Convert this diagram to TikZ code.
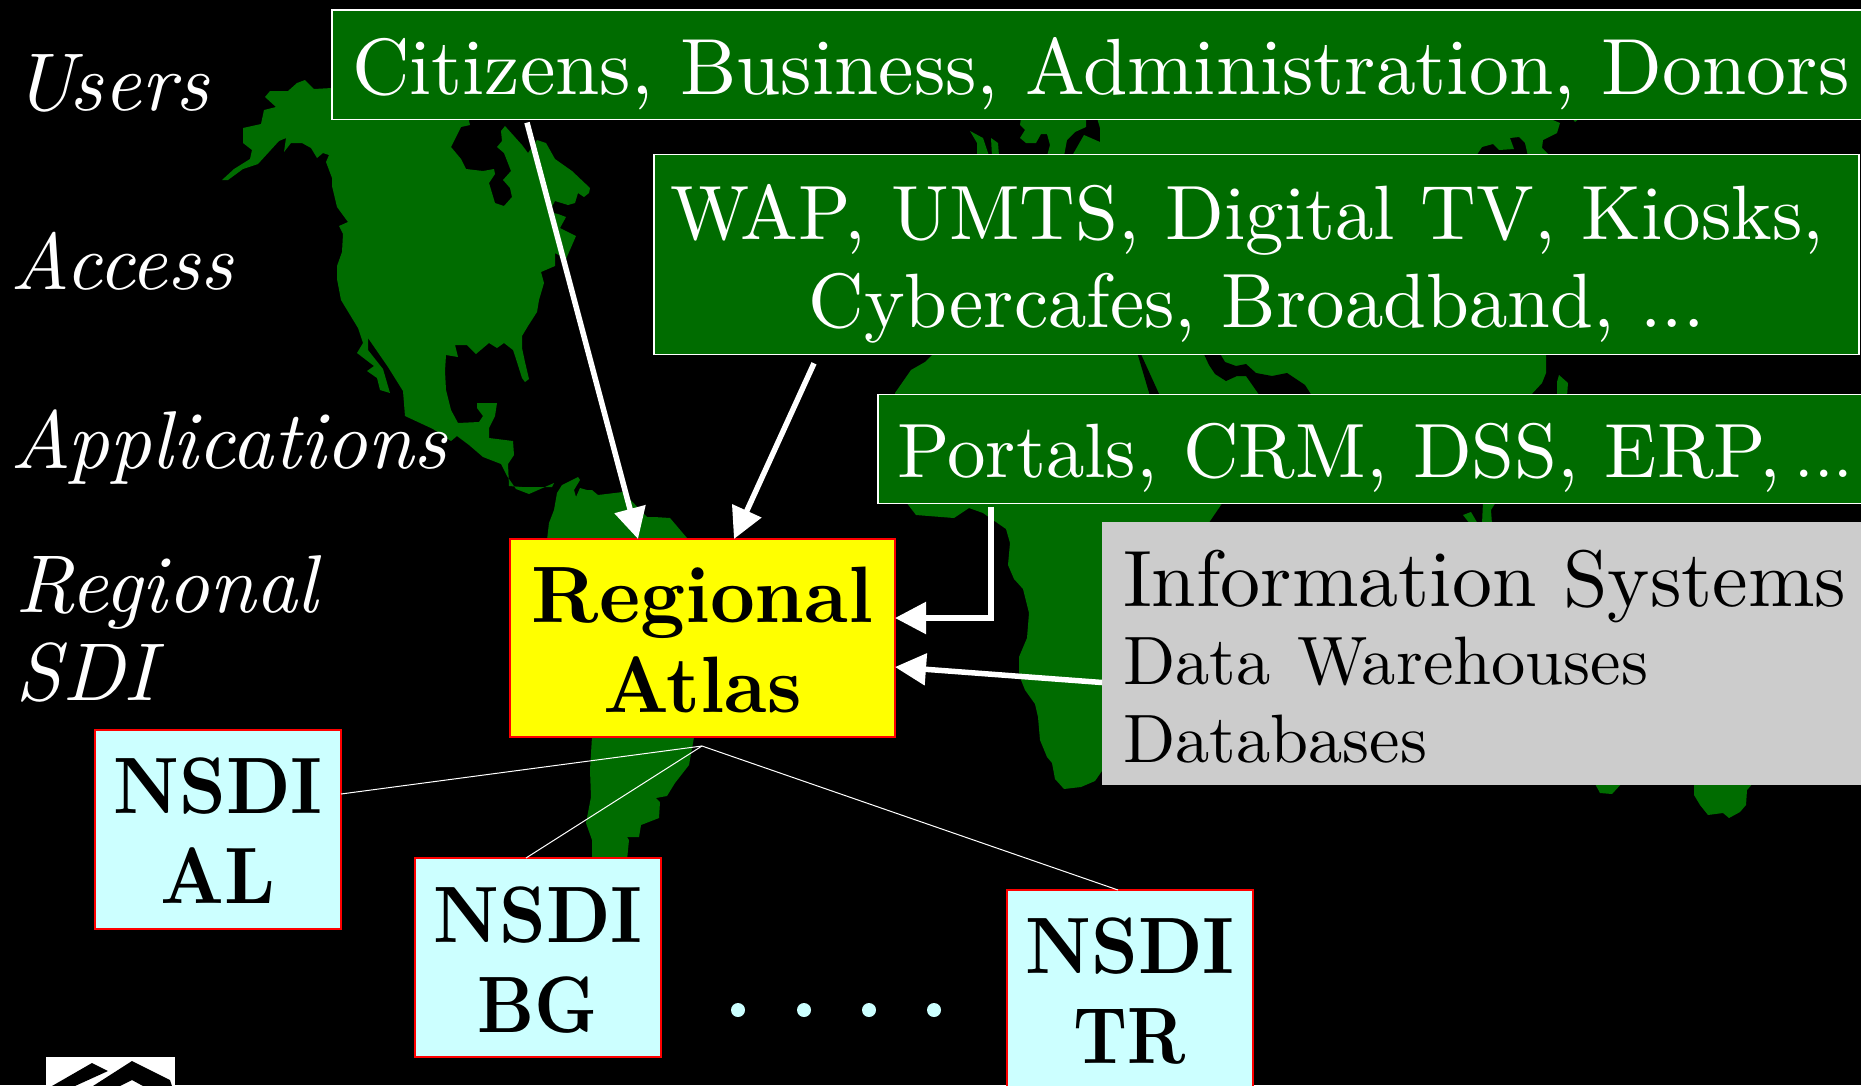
\documentclass[tikz,border=0pt]{standalone}
\usepackage{graphicx}
\usetikzlibrary{arrows.meta,calc}
\DeclareFontFamily{TU}{lmten}{}
\DeclareFontShape{TU}{lmten}{m}{n}{<->"[lmroman10-regular]:+tlig;"}{}
\DeclareFontShape{TU}{lmten}{m}{it}{<->"[lmroman10-italic]:+tlig;"}{}
\DeclareFontShape{TU}{lmten}{bx}{n}{<->"[lmroman10-bold]:+tlig;"}{}
\renewcommand{\rmdefault}{lmten}
\definecolor{land}{HTML}{006C00}
\definecolor{panelgray}{HTML}{CCCCCC}
\definecolor{paleblue}{HTML}{CCFFFF}
\definecolor{atlasyellow}{HTML}{FFFF00}
\definecolor{edgered}{HTML}{FF0000}
\newcommand{\narrowx}[2]{\scalebox{#1}[1]{#2}}
\tikzset{
  landfill/.style={fill=land,draw=none},
  voidfill/.style={fill=black,draw=none},
  boxbase/.style={anchor=north west,inner ysep=0pt,outer sep=0pt,line width=1.5pt},
  greenbox/.style={boxbase,fill=land,draw=white,text=white,font=\rmfamily\fontsize{77}{88}\selectfont},
  graybox/.style={boxbase,fill=panelgray,draw=none,text=black,font=\rmfamily\fontsize{80}{88}\selectfont},
  atlasbox/.style={boxbase,fill=atlasyellow,draw=edgered,text=black,align=center,font=\rmfamily\fontsize{80}{90}\selectfont\bfseries},
  nsdibox/.style={boxbase,fill=paleblue,draw=edgered,text=black,align=center,inner xsep=0pt,text width=246pt,minimum width=246pt,font=\rmfamily\fontsize{80}{90}\selectfont\bfseries},
  rowlabel/.style={anchor=base west,inner sep=0pt,outer sep=0pt,text=white,font=\rmfamily\fontsize{82}{88}\selectfont\itshape},
  conn/.style={draw=white,line width=5.5pt,-{Triangle[length=31pt,width=31pt]}},
  thinlink/.style={draw=white,line width=1pt},
  dotmark/.style={circle,fill=paleblue,draw=none,minimum size=14pt,inner sep=0pt}
}
\begin{document}
\begin{tikzpicture}[x=1pt,y=-1pt]
\useasboundingbox (0,0) rectangle (1861,1085);
\clip (0,0) rectangle (1861,1085);
\fill[black] (0,0) rectangle (1861,1085);
% North America
\fill[landfill] (305,80)--(314,89)--(332,88)--(340,105)--(469,110)--(469,121)--(470,125)--(461,127)--(451,147)--(461,159)--(466,169)--(483,171)--(494,169)--(495,174)--(489,183)--(495,203)--(504,206)--(512,197)--(510,188)--(503,180)--(511,171)--(504,153)--(497,147)--(502,141)--(501,131)--(505,126)--(522,145)--(528,153)--(537,140)--(546,143)--(555,159)--(572,171)--(590,188)--(589,193)--(584,197)--(578,193)--(575,203)--(568,205)--(555,201)--(549,212)--(558,214)--(566,217)--(560,228)--(576,236)--(566,259)--(555,253)--(555,266)--(541,272)--(544,283)--(539,300)--(537,312)--(528,326)--(522,336)--(522,348)--(525,362)--(529,379)--(525,382)--(522,378)--(516,359)--(513,350)--(504,343)--(497,348)--(489,343)--(476,354)--(467,345)--(455,345)--(458,357)--(446,355)--(445,371)--(446,390)--(451,410)--(458,423)--(479,422)--(483,416)--(477,408)--(477,403)--(497,403)--(495,416)--(489,428)--(489,438)--(513,441)--(514,455)--(508,464)--(509,486)--(522,487)--(552,487)--(554,483)--(529,494)--(516,489)--(507,476)--(501,464)--(483,457)--(469,445)--(457,436)--(451,441)--(433,429)--(405,416)--(403,391)--(388,367)--(368,338)--(368,350)--(383,369)--(390,393)--(380,390)--(377,378)--(367,371)--(374,366)--(357,353)--(363,343)--(358,328)--(341,300)--(337,279)--(337,266)--(342,252)--(343,234)--(339,226)--(348,222)--(337,207)--(332,186)--(332,178)--(326,162)--(329,155)--(323,153)--(317,158)--(311,148)--(302,143)--(291,143)--(284,152)--(286,138)--(279,141)--(258,164)--(243,169)--(228,180)--(222,180)--(234,169)--(250,159)--(252,150)--(243,143)--(243,128)--(261,124)--(264,110)--(276,107)--(265,97)--(270,91)--(288,91)--(297,83)--cycle;
% South America
\fill[landfill] (547,540)--(549,523)--(554,510)--(557,493)--(562,485)--(578,477)--(580,480)--(574,490)--(576,497)--(580,488)--(587,490)--(592,490)--(598,495)--(623,492)--(647,517)--(654,517)--(670,518)--(687,538)--(700,600)--(694,737)--(693,743)--(689,765)--(675,783)--(667,796)--(656,798)--(660,802)--(659,818)--(641,825)--(639,837)--(627,837)--(629,840)--(627,860)--(592,860)--(592,840)--(586,823)--(591,797)--(590,770)--(592,737)--cycle;
% Europe / Asia between the first two boxes
\fill[landfill] (970,131)--(983,138)--(989,156)--(977,156)--(977,143)--cycle;
\fill[landfill] (991,138)--(998,143)--(999,156)--(992,156)--cycle;
\fill[landfill] (1021,118)--(1020,125)--(1025,130)--(1020,138)--(1026,143)--(1036,143)--(1041,134)--(1047,134)--(1050,145)--(1047,156)--(1064,156)--(1067,140)--(1075,132)--(1086,127)--(1086,118)--cycle;
\fill[landfill] (1072,156)--(1084,135)--(1100,142)--(1100,128)--(1097,118)--(1548,118)--(1560,123)--(1557,133)--(1543,140)--(1542,148)--(1550,156)--(1528,156)--(1525,143)--(1519,137)--(1510,138)--(1514,149)--(1499,150)--(1493,144)--(1482,147)--(1476,156)--cycle;
\fill[landfill] (1572,118)--(1580,118)--(1575,122)--cycle;
% Africa / Asia between the second and third boxes
\fill[landfill] (935,352)--(933,354)--(925,362)--(911,370)--(895,393)--(895,397)--(1529,397)--(1542,383)--(1546,373)--(1546,352)--cycle;
\fill[voidfill] (1137,352)--(1150,396)--(1160,396)--(1140,352)--cycle;
\fill[voidfill] (1203,352)--(1209,365)--(1215,374)--(1226,381)--(1237,376)--(1246,376)--(1260,396)--(1312,396)--(1305,385)--(1287,373)--(1272,376)--(1256,373)--(1246,364)--(1236,366)--(1225,362)--(1219,352)--cycle;
\fill[landfill] (1559,375)--(1568,383)--(1567,396)--(1557,396)--(1557,382)--cycle;
% Africa below the third box
\fill[landfill] (906,502)--(916,515)--(954,518)--(969,508)--(983,513)--(1006,529)--(1010,543)--(1008,565)--(1014,579)--(1023,589)--(1029,613)--(1027,638)--(1019,657)--(1019,675)--(1025,690)--(1035,704)--(1038,717)--(1040,740)--(1047,757)--(1052,763)--(1055,779)--(1064,789)--(1081,787)--(1095,781)--(1104,768)--(1110,768)--(1110,524)--(1208,524)--(1223,502)--cycle;
\fill[landfill] (1463,515)--(1471,512)--(1478,524)--(1470,524)--cycle;
\fill[landfill] (1483,502)--(1496,502)--(1491,510)--(1492,524)--(1482,524)--cycle;
% Madagascar and Australia corners below the gray panel
\fill[landfill] (1594,782)--(1600,793)--(1612,794)--(1623,782)--cycle;
\fill[landfill] (1694,782)--(1694,795)--(1700,805)--(1708,815)--(1723,813)--(1729,818)--(1740,812)--(1746,805)--(1747,790)--(1754,782)--cycle;
% Logo
\fill[white] (46,1057) rectangle (175,1086);
\fill[black] (52,1086)--(92,1063)--(108,1071)--(75,1086)--cycle;
\fill[black] (93,1086)--(132,1061)--(170,1080)--(172,1086)--(143,1086)--(132,1080)--(120,1086)--cycle;
% Boxes
\node[greenbox,font=\rmfamily\fontsize{79.7}{88}\selectfont,inner xsep=20pt,text width=1560pt,minimum width=1600pt,align=left,text height=84pt,text depth=25.6pt] (users) at (332,10) {Citizens, Business, Administration, Donors};
\node[greenbox,inner xsep=0pt,text width=1205pt,minimum width=1205pt,align=center,text height=84.5pt,text depth=115.3pt] (access) at (654,154.5) {WAP, UMTS, Digital TV, Kiosks,\hspace*{19pt}\mbox{}\\Cybercafes, Broadband, ...};
\node[greenbox,inner xsep=19pt,text width=1100pt,minimum width=1138pt,align=left,text height=83pt,text depth=26pt] (apps) at (878,394.5) {Portals, CRM, DSS, ERP, \kern-12pt{\fontsize{70}{88}\selectfont ...}};
\node[graybox,inner xsep=21pt,text width=800pt,minimum width=842pt,align=left,text height=85pt,text depth=178pt] (info) at (1102,521.5) {Information Systems\par\fontsize{68.5}{78}\selectfont Data Warehouses\par Databases\par};
\node[atlasbox,inner xsep=0pt,text width=385pt,minimum width=385pt,text height=83pt,text depth=115pt] (atlas) at (510,539) {\narrowx{.976}{Regional}\\\narrowx{.948}{Atlas}};
\node[nsdibox,text height=83pt,text depth=116pt] (al) at (95,730) {\narrowx{.915}{NSDI}\\\narrowx{.92}{AL}};
\node[nsdibox,text height=84pt,text depth=115pt] (bg) at (415,858) {\narrowx{.915}{NSDI}\\\narrowx{.874}{BG}};
\node[nsdibox,text height=83pt,text depth=116pt] (tr) at (1007,890) {\narrowx{.915}{NSDI}\\\narrowx{.845}{TR}};
% Row labels
\node[rowlabel] (lblusers) at (13,110) {Users};
\node[rowlabel,font=\rmfamily\fontsize{80}{88}\selectfont\itshape] (lblaccess) at (10,289) {Access};
\node[rowlabel] (lblapps) at (10,468) {Applications};
\node[rowlabel] (lblreg) at (15,612) {Regional};
\node[rowlabel] (lblsdi) at (16,700) {SDI};
% Dots
\node[dotmark] (d1) at (738,1010) {};
\node[dotmark] (d2) at (804,1010) {};
\node[dotmark] (d3) at (869,1010) {};
\node[dotmark] (d4) at (934,1010) {};
% Connectors
\coordinate (hub) at (702,746);
\draw[conn] ($(users.south west)+(195,3)$) -- ($(atlas.north west)+(128,0)$);
\draw[conn] ($(access.south west)+(160,9)$) -- ($(atlas.north west)+(224,0)$);
\draw[conn] ($(apps.south west)+(113,3)$) |- ($(atlas.north east)+(0,79)$);
\draw[conn] ($(info.north west)+(0,161)$) -- ($(atlas.north east)+(0,128)$);
\draw[thinlink] (hub) -- ($(al.north east)+(0,64)$);
\draw[thinlink] (hub) -- ($(bg.north west)+(111,0)$);
\draw[thinlink] (hub) -- ($(tr.north west)+(111,0)$);
\end{tikzpicture}
\end{document}
